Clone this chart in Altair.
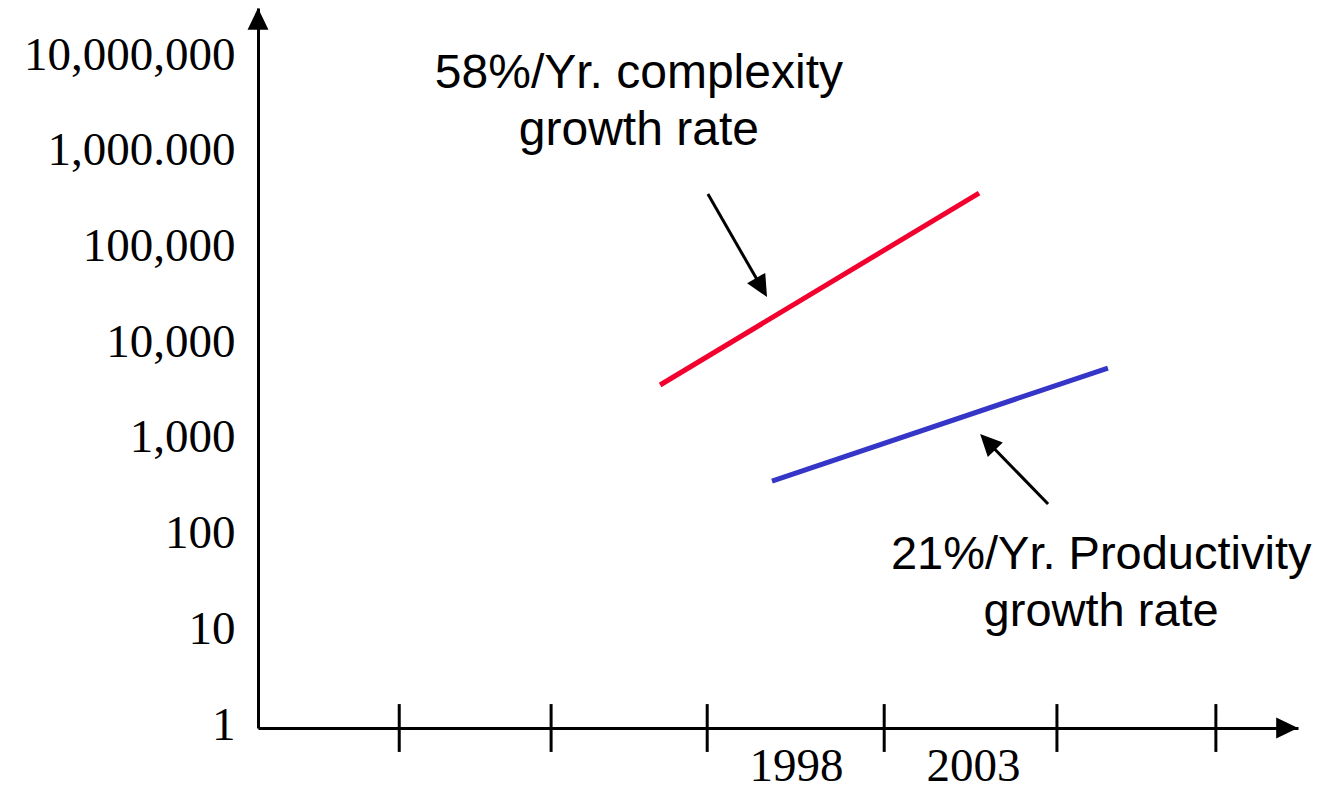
import math
import altair as alt
import pandas as pd

# ---------------- data ----------------
y_tick_values = [1, 10, 100, 1000, 10000, 100000, 1000000, 10000000]
y_tick_labels = ["1", "10", "100", "1,000", "10,000", "100,000", "1,000.000", "10,000,000"]
x_label_years = [1998, 2003]
x_tick_years = [1986.79, 1991.08, 1995.49, 2000.49, 2005.37, 2009.86]

series_names = ["complexity", "productivity"]
complexity_years = [1994.16, 2003.17]
complexity_values = [3840, 389000]
productivity_years = [1997.32, 2006.81]
productivity_values = [381, 5780]
series_colors = ["#F2002E", "#3535C8"]

note_texts = ["58%/Yr. complexity\ngrowth rate", "21%/Yr. Productivity\ngrowth rate"]
note_years = [1993.56, 2006.62]
note_values = [4.9e6, 45.9]
note_sizes = [48, 47]

arrow_tail_years = [1995.51, 2005.12]
arrow_tail_values = [380000, 219]
arrow_tip_years = [1997.18, 2003.20]
arrow_tip_values = [31900, 1180]

# ---------------- layout ----------------
W, H = 1040, 720
X0, X1 = 1982.80, 2012.18
Y_TOP = 10 ** 7.524
PX_YEAR = W / (X1 - X0)
PX_DEC = H / math.log10(Y_TOP)
HEAD = "M0,0 L0.48,1 L-0.48,1 Z"   # arrowhead with its tip at the origin

xs = alt.Scale(domain=[X0, X1], nice=False, zero=False)
ys = alt.Scale(type="log", domain=[1, Y_TOP], nice=False)

label_expr = ""
for v, lab in zip(y_tick_values, y_tick_labels):
    label_expr += f"datum.value == {v} ? '{lab}' : "
label_expr += "''"

x_axis = alt.Axis(values=x_label_years, format="d", title=None, ticks=False, grid=False,
                  domainColor="black", domainWidth=3, labelFont="Liberation Serif",
                  labelFontSize=47, labelColor="black", labelPadding=15, labelFlush=False,
                  labelOverlap=False, labelLimit=0)
y_axis = alt.Axis(values=y_tick_values, labelExpr=label_expr, title=None, ticks=False,
                  grid=False, domainColor="black", domainWidth=3,
                  labelFont="Liberation Serif", labelFontSize=47, labelColor="black",
                  labelPadding=23, labelOverlap=False, labelLimit=0, labelOffset=-3)


def X(f="x"):
    return alt.X(f"{f}:Q", scale=xs, axis=x_axis)


def Y(f="y"):
    return alt.Y(f"{f}:Q", scale=ys, axis=y_axis)


# series lines
rows = []
for name, yrs, vals in [(series_names[0], complexity_years, complexity_values),
                        (series_names[1], productivity_years, productivity_values)]:
    for a, b in zip(yrs, vals):
        rows.append({"series": name, "x": a, "y": b})
lines_df = pd.DataFrame(rows)
lines = alt.Chart(lines_df).mark_line(strokeWidth=5).encode(
    x=X(), y=Y(),
    color=alt.Color("series:N", scale=alt.Scale(domain=series_names, range=series_colors), legend=None),
    detail="series:N",
)

# x axis tick marks crossing the axis
tick_df = pd.DataFrame({"x": x_tick_years, "y": [10 ** -0.25] * len(x_tick_years),
                        "y2": [10 ** 0.25] * len(x_tick_years)})
ticks = alt.Chart(tick_df).mark_rule(color="black", strokeWidth=3).encode(
    x=X(), y=Y(), y2="y2:Q")

# annotation arrows
arr_rows = []
head_rows = []
for tx, tv, hx, hv in zip(arrow_tail_years, arrow_tail_values, arrow_tip_years, arrow_tip_values):
    dx = (hx - tx) * PX_YEAR
    dy = -(math.log10(hv) - math.log10(tv)) * PX_DEC
    length = math.hypot(dx, dy)
    f = 1 - 10 / length
    ex = tx + (hx - tx) * f
    ev = 10 ** (math.log10(tv) + (math.log10(hv) - math.log10(tv)) * f)
    arr_rows.append({"x": tx, "y": tv, "x2": ex, "y2": ev})
    ang = math.degrees(math.atan2(dx, -dy)) % 360
    head_rows.append({"x": hx, "y": hv, "ang": ang})
shafts = alt.Chart(pd.DataFrame(arr_rows)).mark_rule(color="black", strokeWidth=3).encode(
    x=X(), y=Y(), x2="x2:Q", y2="y2:Q")
heads = alt.Chart(pd.DataFrame(head_rows)).mark_point(
    shape=HEAD, filled=True, size=1900, color="black", opacity=1, strokeWidth=0).encode(
    x=X(), y=Y(), angle=alt.Angle("ang:Q", scale=None))

# axis arrowheads
axis_heads_df = pd.DataFrame({"x": [X0, X1], "y": [Y_TOP, 1], "ang": [0, 90]})
axis_heads = alt.Chart(axis_heads_df).mark_point(
    shape=HEAD, filled=True, size=1900, color="black", opacity=1, strokeWidth=0).encode(
    x=X(), y=Y(), angle=alt.Angle("ang:Q", scale=None))

# notes
notes_df = pd.DataFrame({"x": note_years, "y": note_values, "t": note_texts, "fs": note_sizes})
notes = alt.Chart(notes_df).mark_text(
    font="Liberation Sans", lineBreak="\n", lineHeight=57,
    align="center", baseline="alphabetic", color="black").encode(
    x=X(), y=Y(), text="t:N", size=alt.Size("fs:Q", scale=None, legend=None))

chart = alt.layer(lines, ticks, shafts, heads, axis_heads, notes).properties(
    width=W, height=H,
    autosize=alt.AutoSizeParams(type="none"),
    padding={"left": 250, "top": 0, "right": 17, "bottom": 62},
    background="white",
).configure_view(stroke=None)

chart.save("out.html", embed_options={"renderer": "svg", "actions": False})
